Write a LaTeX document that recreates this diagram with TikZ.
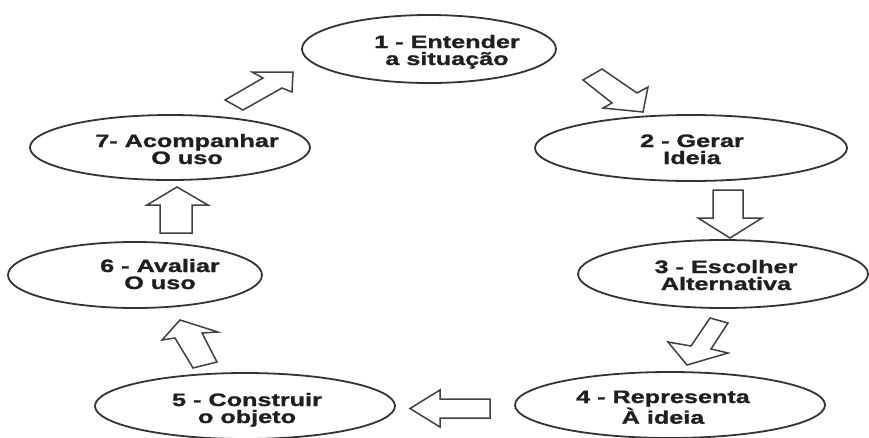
\documentclass[tikz,border=0pt]{standalone}
\usepackage{fontspec}
\newfontfamily\lab[FakeStretch=1.4,FakeBold=1.2]{Liberation Sans}
\usetikzlibrary{shapes.geometric}
\newcommand\twol[2]{\vtop{\baselineskip=17pt\halign{\hfil##\hfil\cr#1\cr#2\cr}}}
\begin{document}
\begin{tikzpicture}[x=1pt,y=-1pt,
  ell/.style={ellipse, draw=black!80, line width=1.8pt, inner sep=0pt, fill=white},
  lbl/.style={anchor=base, inner sep=0pt, font=\lab\bfseries\fontsize{18pt}{17pt}\selectfont, text=black!88},
  barrow/.style={draw=black!75, line width=1.5pt, line join=miter, fill=white}]
\useasboundingbox[fill=white] (0,0) rectangle (869,437);
% ellipses
\node[ell, minimum width=254pt, minimum height=68pt] (e1) at (429,49) {};
\node[ell, minimum width=312pt, minimum height=66pt] (e2) at (691,148) {};
\node[ell, minimum width=290pt, minimum height=68pt] (e3) at (723,274) {};
\node[ell, minimum width=310pt, minimum height=66pt] (e4) at (670,405) {};
\node[ell, minimum width=300pt, minimum height=66pt] (e5) at (245,406) {};
\node[ell, minimum width=254pt, minimum height=66pt] (e6) at (135,275) {};
\node[ell, minimum width=280pt, minimum height=65pt] (e7) at (170,147.5) {};
% labels
\node[lbl] (t1) at (447,48) {\twol{1 - Entender}{a situação}};
\node[lbl] (t2) at (692,147) {\twol{2 - Gerar}{Ideia}};
\node[lbl] (t3) at (726,273) {\twol{3 - Escolher}{Alternativa}};
\node[lbl] (t4) at (663,403) {\twol{4 - Representa}{À ideia}};
\node[lbl] (t5) at (247,406) {\twol{5 - Construir}{o objeto}};
\node[lbl] (t6) at (160,272) {\twol{6 - Avaliar}{O uso}};
\node[lbl] (t7) at (187,147) {\twol{7- Acompanhar}{O uso}};
% block arrows
\draw[barrow] (225,100) -- (263,78) -- (252,72) -- (293,72) -- (292,92) -- (282,88) -- (243,110) -- cycle;
\draw[barrow] (583,80) -- (612,103) -- (603,108) -- (643,112) -- (648,87) -- (637,93) -- (602,69) -- cycle;
\draw[barrow] (713,190) -- (713,218) -- (698,218) -- (730,238) -- (762,218) -- (743,218) -- (743,190) -- cycle;
\draw[barrow] (710,318) -- (691,346) -- (668,342) -- (687,365) -- (728,353) -- (711,349) -- (728,323) -- cycle;
\draw[barrow] (490,399) -- (440,399) -- (440,390) -- (410,408.5) -- (440,427) -- (440,418) -- (490,418) -- cycle;
\draw[barrow] (180,320) -- (218,332) -- (202,333) -- (217,362) -- (193,368) -- (175,338) -- (162,340) -- cycle;
\draw[barrow] (160,233) -- (160,205) -- (147,205) -- (177,187) -- (208,205) -- (192,205) -- (192,233) -- cycle;
\end{tikzpicture}
\end{document}
